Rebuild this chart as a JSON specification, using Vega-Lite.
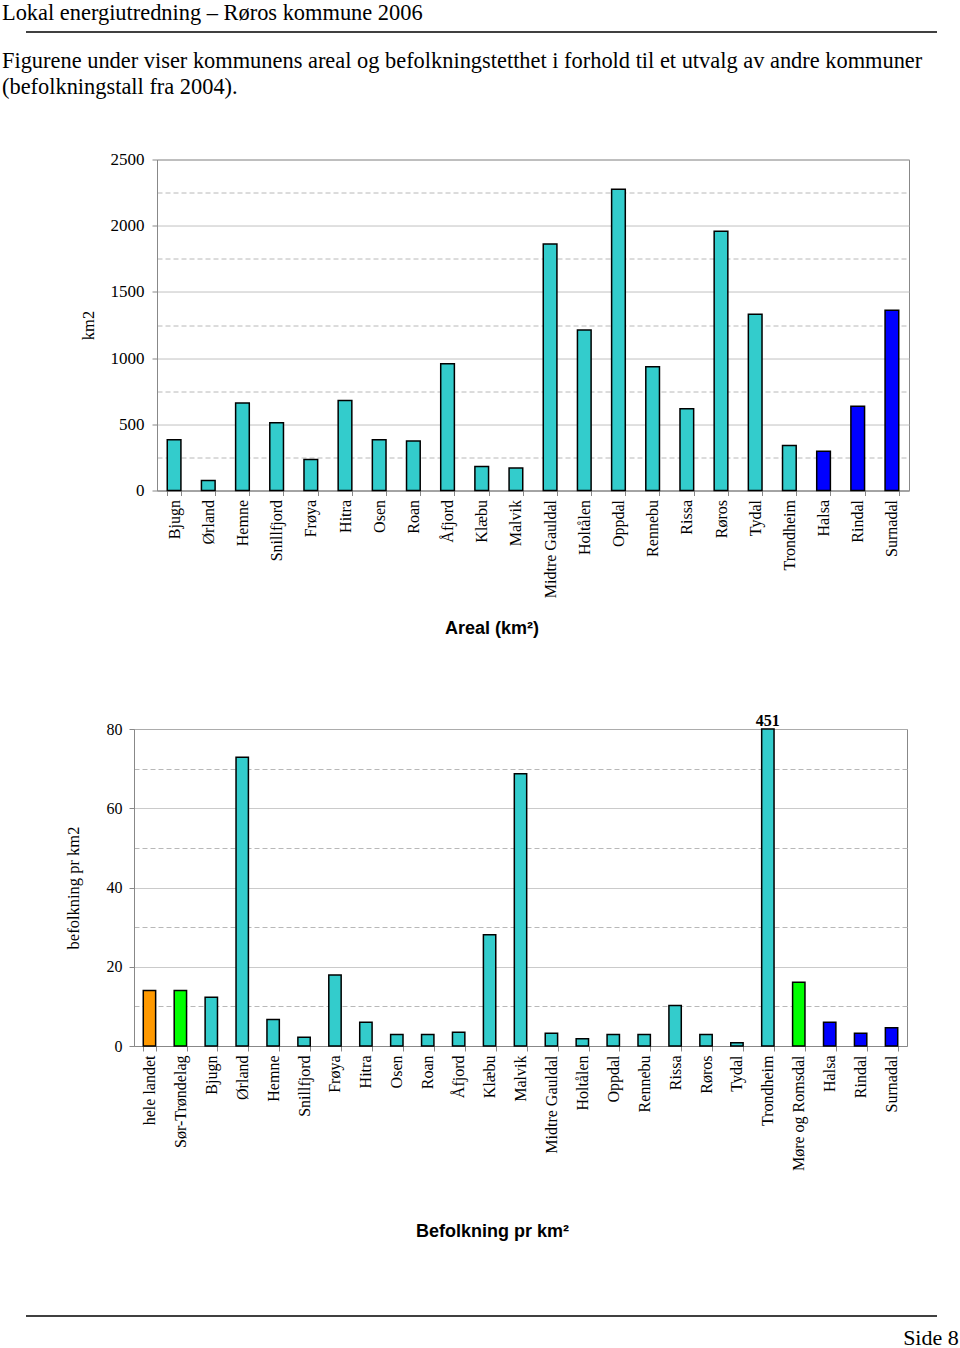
{
  "$schema": "https://vega.github.io/schema/vega-lite/v6.json",
  "background": "white",
  "padding": {"left": 1, "top": 2, "right": 0, "bottom": 0},
  "autosize": {"type": "pad"},
  "config": {"font": "Liberation Serif", "view": {"stroke": "#888888"}},
  "title": {"text": "Side 8", "orient": "bottom", "anchor": "end", "frame": "bounds", "dx": 21, "offset": 11, "font": "Liberation Serif", "fontSize": 22, "fontWeight": "normal", "color": "black"},
  "spacing": 16.5,
  "bounds": "full",
  "vconcat": [
    {
      "width": 911, "height": 1,
      "title": {"text": "Lokal energiutredning – Røros kommune 2006", "anchor": "start", "frame": "group", "dx": -24, "offset": 6.5, "font": "Liberation Serif", "fontSize": 22.4, "fontWeight": "normal", "color": "black", "limit": 2000},
      "view": {"stroke": null},
      "data": {"values": [{}]},
      "mark": {"type": "rule", "color": "black", "strokeWidth": 1.5},
      "encoding": {"y": {"datum": 0, "type": "quantitative", "scale": {"domain": [0, 1]}, "axis": null}}
    },
    {
      "hconcat": [
        {"width": 131, "height": 443, "view": {"stroke": null}, "data": {"values": []}, "mark": "point", "encoding": {}},
        {
          "width": 752, "height": 331,
          "title": {"text": ["Figurene under viser kommunens areal og befolkningstetthet i forhold til et utvalg av andre kommuner", "(befolkningstall fra 2004)."], "anchor": "start", "frame": "group", "dx": -155, "offset": 52, "font": "Liberation Serif", "fontSize": 22.4, "fontWeight": "normal", "lineHeight": 26, "color": "black", "limit": 2000},
          "data": {"values": [
            {"kommune": "Bjugn", "areal": 383, "kategori": "ST"},
            {"kommune": "Ørland", "areal": 76, "kategori": "ST"},
            {"kommune": "Hemne", "areal": 660, "kategori": "ST"},
            {"kommune": "Snillfjord", "areal": 512, "kategori": "ST"},
            {"kommune": "Frøya", "areal": 234, "kategori": "ST"},
            {"kommune": "Hitra", "areal": 680, "kategori": "ST"},
            {"kommune": "Osen", "areal": 383, "kategori": "ST"},
            {"kommune": "Roan", "areal": 373, "kategori": "ST"},
            {"kommune": "Åfjord", "areal": 958, "kategori": "ST"},
            {"kommune": "Klæbu", "areal": 181, "kategori": "ST"},
            {"kommune": "Malvik", "areal": 169, "kategori": "ST"},
            {"kommune": "Midtre Gauldal", "areal": 1862, "kategori": "ST"},
            {"kommune": "Holtålen", "areal": 1212, "kategori": "ST"},
            {"kommune": "Oppdal", "areal": 2276, "kategori": "ST"},
            {"kommune": "Rennebu", "areal": 935, "kategori": "ST"},
            {"kommune": "Rissa", "areal": 618, "kategori": "ST"},
            {"kommune": "Røros", "areal": 1958, "kategori": "ST"},
            {"kommune": "Tydal", "areal": 1331, "kategori": "ST"},
            {"kommune": "Trondheim", "areal": 340, "kategori": "ST"},
            {"kommune": "Halsa", "areal": 297, "kategori": "MR"},
            {"kommune": "Rindal", "areal": 637, "kategori": "MR"},
            {"kommune": "Surnadal", "areal": 1361, "kategori": "MR"}
          ]},
          "mark": {"type": "bar", "stroke": "black", "strokeWidth": 1.5},
          "encoding": {
            "x": {"field": "kommune", "type": "nominal", "sort": null,
              "scale": {"paddingInner": 0.6, "paddingOuter": 0.3},
              "axis": {"title": null, "labelAngle": -90, "labelFont": "Liberation Serif", "labelFontSize": 16, "labelColor": "black", "labelPadding": 4, "tickSize": 5, "tickColor": "#888888", "tickBand": "extent", "domainColor": "#888888", "grid": false, "labelLimit": 400}},
            "y": {"field": "areal", "type": "quantitative",
              "scale": {"domain": [0, 2500], "nice": false},
              "axis": {"title": "km2", "values": [0, 250, 500, 750, 1000, 1250, 1500, 1750, 2000, 2250, 2500], "format": "d",
                "labelExpr": "datum.value % 500 === 0 ? datum.label : ''",
                "grid": true, "gridColor": "#b8b8b8",
                "gridDash": {"condition": {"test": "datum.value % 500 === 0", "value": [1, 0]}, "value": [5, 3]},
                "tickOpacity": {"condition": {"test": "datum.value % 500 === 0", "value": 1}, "value": 0},
                "tickSize": 5, "tickColor": "#888888", "domainColor": "#888888",
                "labelFont": "Liberation Serif", "labelFontSize": 17, "labelColor": "black", "labelPadding": 8,
                "titleFont": "Liberation Serif", "titleFontSize": 16.5, "titleFontWeight": "normal", "titleColor": "black", "titlePadding": 14}},
            "color": {"field": "kategori", "type": "nominal", "scale": {"domain": ["ST", "MR", "landet", "fylke"], "range": ["#33CCCC", "#0000FF", "#FF9900", "#00FF00"]}, "legend": null}
          }
        }
      ],
      "spacing": 0,
      "bounds": "flush"
    },
    {
      "hconcat": [
        {"width": 108, "height": 1, "view": {"stroke": null}, "data": {"values": []}, "mark": "point", "encoding": {}},
        {
          "width": 773, "height": 317,
          "title": {"text": "Areal (km²)", "anchor": "middle", "frame": "group", "dx": -28.5, "offset": 75, "font": "Liberation Sans", "fontSize": 18, "fontWeight": "bold", "color": "black"},
          "data": {"values": [
            {"kommune": "hele landet", "tetthet": 14.0, "kategori": "landet"},
            {"kommune": "Sør-Trøndelag", "tetthet": 14.0, "kategori": "fylke"},
            {"kommune": "Bjugn", "tetthet": 12.3, "kategori": "ST"},
            {"kommune": "Ørland", "tetthet": 72.9, "kategori": "ST"},
            {"kommune": "Hemne", "tetthet": 6.7, "kategori": "ST"},
            {"kommune": "Snillfjord", "tetthet": 2.2, "kategori": "ST"},
            {"kommune": "Frøya", "tetthet": 17.9, "kategori": "ST"},
            {"kommune": "Hitra", "tetthet": 6.0, "kategori": "ST"},
            {"kommune": "Osen", "tetthet": 2.9, "kategori": "ST"},
            {"kommune": "Roan", "tetthet": 2.9, "kategori": "ST"},
            {"kommune": "Åfjord", "tetthet": 3.5, "kategori": "ST"},
            {"kommune": "Klæbu", "tetthet": 28.1, "kategori": "ST"},
            {"kommune": "Malvik", "tetthet": 68.7, "kategori": "ST"},
            {"kommune": "Midtre Gauldal", "tetthet": 3.2, "kategori": "ST"},
            {"kommune": "Holtålen", "tetthet": 1.8, "kategori": "ST"},
            {"kommune": "Oppdal", "tetthet": 2.9, "kategori": "ST"},
            {"kommune": "Rennebu", "tetthet": 2.9, "kategori": "ST"},
            {"kommune": "Rissa", "tetthet": 10.2, "kategori": "ST"},
            {"kommune": "Røros", "tetthet": 2.9, "kategori": "ST"},
            {"kommune": "Tydal", "tetthet": 0.8, "kategori": "ST"},
            {"kommune": "Trondheim", "tetthet": 451, "kategori": "ST"},
            {"kommune": "Møre og Romsdal", "tetthet": 16.1, "kategori": "fylke"},
            {"kommune": "Halsa", "tetthet": 6.0, "kategori": "MR"},
            {"kommune": "Rindal", "tetthet": 3.2, "kategori": "MR"},
            {"kommune": "Surnadal", "tetthet": 4.6, "kategori": "MR"}
          ]},
          "encoding": {
            "x": {"field": "kommune", "type": "nominal", "sort": null,
              "scale": {"paddingInner": 0.6, "paddingOuter": 0.3},
              "axis": {"title": "Befolkning pr km²", "titleFont": "Liberation Sans", "titleFontSize": 18, "titleFontWeight": "bold", "titleColor": "black", "titlePadding": 52, "titleX": 358,
                "labelAngle": -90, "labelFont": "Liberation Serif", "labelFontSize": 16, "labelColor": "black", "labelPadding": 4, "tickSize": 5, "tickColor": "#888888", "tickBand": "extent", "domainColor": "#888888", "grid": false, "labelLimit": 400}},
            "y": {"field": "tetthet", "type": "quantitative",
              "scale": {"domain": [0, 80], "nice": false, "clamp": true},
              "axis": {"title": "befolkning pr km2", "values": [0, 10, 20, 30, 40, 50, 60, 70, 80],
                "labelExpr": "datum.value % 20 === 0 ? datum.label : ''",
                "grid": true, "gridColor": "#b8b8b8",
                "gridDash": {"condition": {"test": "datum.value % 20 === 0", "value": [1, 0]}, "value": [5, 3]},
                "tickOpacity": {"condition": {"test": "datum.value % 20 === 0", "value": 1}, "value": 0},
                "tickSize": 5, "tickColor": "#888888", "domainColor": "#888888",
                "labelFont": "Liberation Serif", "labelFontSize": 16, "labelColor": "black", "labelPadding": 7,
                "titleFont": "Liberation Serif", "titleFontSize": 16.5, "titleFontWeight": "normal", "titleColor": "black", "titlePadding": 25}}
          },
          "layer": [
            {
              "mark": {"type": "bar", "stroke": "black", "strokeWidth": 1.5},
              "encoding": {
                "color": {"field": "kategori", "type": "nominal", "scale": {"domain": ["ST", "MR", "landet", "fylke"], "range": ["#33CCCC", "#0000FF", "#FF9900", "#00FF00"]}, "legend": null}
              }
            },
            {
              "transform": [{"filter": "datum.tetthet > 80"}],
              "mark": {"type": "text", "font": "Liberation Serif", "fontSize": 16, "fontWeight": "bold", "baseline": "alphabetic", "dy": -3, "color": "black"},
              "encoding": {"text": {"field": "tetthet", "type": "quantitative"}}
            }
          ]
        }
      ],
      "spacing": 0,
      "bounds": "flush"
    },
    {
      "width": 911, "height": 57.5,
      "view": {"stroke": null},
      "data": {"values": [{}]},
      "mark": {"type": "rule", "color": "black", "strokeWidth": 1.5},
      "encoding": {"y": {"datum": 0, "type": "quantitative", "scale": {"domain": [0, 1]}, "axis": null}}
    }
  ]
}
